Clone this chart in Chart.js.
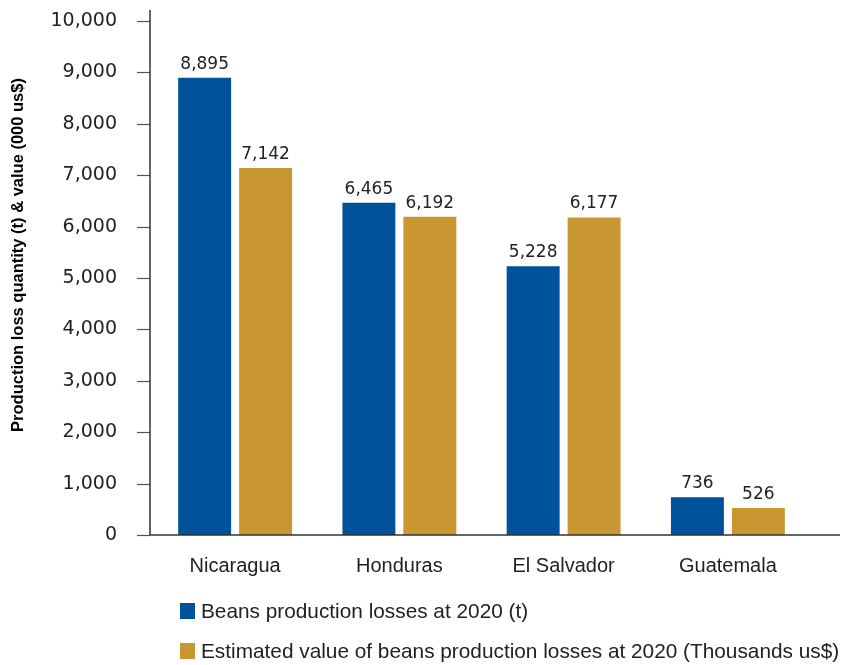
<!DOCTYPE html>
<html>
<head>
<meta charset="utf-8">
<script src="https://cdn.jsdelivr.net/npm/chart.js@4.4.1/dist/chart.umd.min.js"></script>
<style>
  html, body { margin: 0; padding: 0; background: #fff; }
  #wrap { position: relative; width: 841px; height: 665px; }
  #legend { position: absolute; left: 180px; top: 591px; font-family: "Liberation Sans", sans-serif; font-size: 20.8px; color: #222; }
  #legend div { display: flex; align-items: center; height: 40px; white-space: nowrap; }
  #legend span.box { width: 15px; height: 16px; margin-right: 6px; display: inline-block; }
</style>
</head>
<body>
<div id="wrap">
  <canvas id="chart" width="841" height="665"></canvas>
  <div id="legend"></div>
</div>
<script>
// ---------- data ----------
const countries = ["Nicaragua", "Honduras", "El Salvador", "Guatemala"];
const lossTonnes = [8895, 6465, 5228, 736];
const lossValueThousandUsd = [7142, 6192, 6177, 526];
const yTicks = [0, 1000, 2000, 3000, 4000, 5000, 6000, 7000, 8000, 9000, 10000];

const seriesNames = [
  "Beans production losses at 2020 (t)",
  "Estimated value of beans production losses at 2020 (Thousands us$)",
];
const seriesColors = ["#00529b", "#c99632"];
const yTitle = "Production loss quantity (t) & value (000 us$)";

const AXIS_X = 150; // where the vertical axis line sits

// ---------- value labels, axis lines, tick marks, rotated title ----------
const decorations = {
  id: "decorations",
  afterDatasetsDraw(chart) {
    const ctx = chart.ctx;
    ctx.save();
    ctx.font = "17px 'DejaVu Sans', sans-serif";
    ctx.fillStyle = "#222";
    ctx.textAlign = "center";
    ctx.textBaseline = "bottom";
    chart.data.datasets.forEach((ds, i) => {
      chart.getDatasetMeta(i).data.forEach((bar, j) => {
        ctx.fillText(ds.data[j].toLocaleString("en-US"), bar.x, bar.y - 5);
      });
    });
    ctx.restore();
  },
  afterDraw(chart) {
    const { ctx, chartArea, scales } = chart;
    ctx.save();
    // tick marks on the left of the axis
    ctx.strokeStyle = "#555";
    ctx.lineWidth = 1.2;
    yTicks.forEach((v) => {
      const y = Math.round(scales.y.getPixelForValue(v)) + 0.5;
      ctx.beginPath();
      ctx.moveTo(AXIS_X - 13, y);
      ctx.lineTo(AXIS_X, y);
      ctx.stroke();
    });
    // axis lines, the x one runs past the last category
    ctx.strokeStyle = "#333";
    ctx.lineWidth = 1.5;
    ctx.beginPath();
    ctx.moveTo(AXIS_X, 10);
    ctx.lineTo(AXIS_X, chartArea.bottom);
    ctx.lineTo(840, chartArea.bottom);
    ctx.stroke();

    ctx.translate(18, 255);
    ctx.rotate(-Math.PI / 2);
    ctx.font = "bold 16.5px 'Liberation Sans', sans-serif";
    ctx.fillStyle = "#000";
    ctx.textAlign = "center";
    ctx.textBaseline = "middle";
    ctx.fillText(yTitle, 0, 0);
    ctx.restore();
  },
};

new Chart(document.getElementById("chart"), {
  type: "bar",
  data: {
    labels: countries,
    datasets: [
      { label: seriesNames[0], data: lossTonnes, backgroundColor: seriesColors[0] },
      { label: seriesNames[1], data: lossValueThousandUsd, backgroundColor: seriesColors[1] },
    ],
  },
  options: {
    responsive: false,
    animation: false,
    categoryPercentage: 0.742,
    barPercentage: 0.869,
    layout: { padding: { top: 21, right: 31, left: 0, bottom: 0 } },
    plugins: { legend: { display: false }, tooltip: { enabled: false } },
    scales: {
      x: {
        grid: { display: false },
        border: { display: false },
        ticks: { padding: 11, color: "#222", font: { family: "'Liberation Sans', sans-serif", size: 20 } },
        afterFit(scale) { scale.height = 130; },
      },
      y: {
        min: 0,
        max: 10000,
        afterBuildTicks(scale) { scale.ticks = yTicks.map((v) => ({ value: v })); },
        grid: { display: false, drawTicks: false },
        border: { display: false },
        ticks: {
          padding: 36,
          color: "#222",
          font: { family: "'DejaVu Sans', sans-serif", size: 19 },
          callback: (v) => v.toLocaleString("en-US"),
        },
        afterFit(scale) {
          scale.width = 153;
          scale.paddingTop = 0;
          scale.paddingBottom = 0;
        },
      },
    },
  },
  plugins: [decorations],
});

// ---------- legend ----------
document.getElementById("legend").innerHTML = seriesNames
  .map((n, i) => `<div><span class="box" style="background:${seriesColors[i]}"></span>${n}</div>`)
  .join("");
</script>
</body>
</html>
